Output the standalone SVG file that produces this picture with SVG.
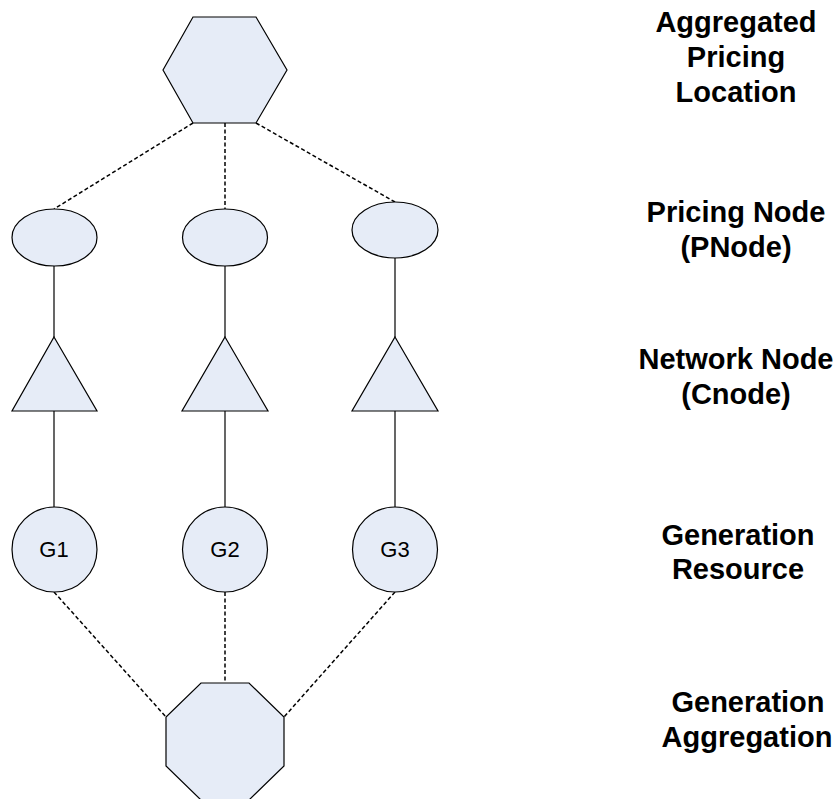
<svg xmlns="http://www.w3.org/2000/svg" width="838" height="799" viewBox="0 0 838 799">
<style>
.shape{fill:#E6ECF7;stroke:#000;stroke-width:1.2}
.solid{stroke:#000;stroke-width:1.2;fill:none}
.dash{stroke:#000;stroke-width:1.5;fill:none;stroke-dasharray:4 2.5}
.lbl{font-family:"Liberation Sans",Arial,sans-serif;font-weight:bold;font-size:29px;fill:#000;text-anchor:middle}
.g{font-family:"Liberation Sans",Arial,sans-serif;font-size:22px;fill:#000;text-anchor:middle}
</style>
<rect width="838" height="799" fill="#fff"/>
<g id="connectors">
<line class="dash" x1="193" y1="123" x2="54" y2="209"/>
<line class="dash" x1="225" y1="123" x2="225" y2="209"/>
<line class="dash" x1="256" y1="123" x2="395" y2="202"/>
<line class="solid" x1="54" y1="266" x2="54" y2="337"/>
<line class="solid" x1="225" y1="266" x2="225" y2="337"/>
<line class="solid" x1="395" y1="258" x2="395" y2="337"/>
<line class="solid" x1="54" y1="411" x2="54" y2="507"/>
<line class="solid" x1="225" y1="411" x2="225" y2="507"/>
<line class="solid" x1="395" y1="411" x2="395" y2="507"/>
<line class="dash" x1="54" y1="592" x2="166" y2="717"/>
<line class="dash" x1="225" y1="592" x2="225" y2="683"/>
<line class="dash" x1="395" y1="592" x2="284" y2="717"/>
</g>
<g id="apl"><polygon class="shape" points="193,17 256,17 287,70 256,123 193,123 163,70"/></g>
<g id="pnode1"><ellipse class="shape" cx="54.5" cy="237.5" rx="42.5" ry="28.5"/></g>
<g id="pnode2"><ellipse class="shape" cx="225" cy="237.5" rx="42.5" ry="28.5"/></g>
<g id="pnode3"><ellipse class="shape" cx="395" cy="230" rx="43" ry="28"/></g>
<g id="cnode1"><polygon class="shape" points="54,337 97,411 12,411"/></g>
<g id="cnode2"><polygon class="shape" points="225,337 268,411 182,411"/></g>
<g id="cnode3"><polygon class="shape" points="395,337 438,411 352,411"/></g>
<g id="g1"><circle class="shape" cx="54.5" cy="549.5" r="42.5"/><text class="g" x="54" y="557">G1</text></g>
<g id="g2"><circle class="shape" cx="225" cy="549.5" r="42.5"/><text class="g" x="225" y="557">G2</text></g>
<g id="g3"><circle class="shape" cx="395" cy="549.5" r="42.5"/><text class="g" x="395" y="557">G3</text></g>
<g id="genagg"><polygon class="shape" points="201,683 249,683 284,717 284,766 249,800 201,800 166,766 166,717"/></g>
<g id="labels">
<text class="lbl" x="736" y="32">Aggregated</text>
<text class="lbl" x="736" y="67">Pricing</text>
<text class="lbl" x="736" y="102">Location</text>
<text class="lbl" x="736" y="222">Pricing Node</text>
<text class="lbl" x="736" y="257">(PNode)</text>
<text class="lbl" x="736" y="369">Network Node</text>
<text class="lbl" x="736" y="404">(Cnode)</text>
<text class="lbl" x="738" y="545">Generation</text>
<text class="lbl" x="738" y="579">Resource</text>
<text class="lbl" x="748" y="712">Generation</text>
<text class="lbl" x="747" y="747">Aggregation</text>
</g>
</svg>
